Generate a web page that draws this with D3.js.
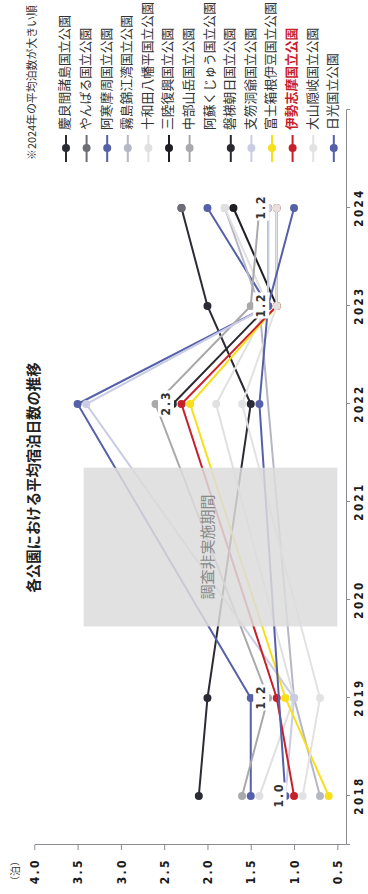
<!DOCTYPE html>
<html><head><meta charset="utf-8">
<script src="https://cdn.jsdelivr.net/npm/d3@7"></script>
<style>body{margin:0;background:#fff}svg{display:block}</style>
</head><body><svg id="c" width="368" height="894"></svg>
<script>
// ---------- data ----------
const years = [2018, 2019, 2022, 2023, 2024];
const parkNames = ["慶良間諸島国立公園","やんばる国立公園","阿寒摩周国立公園","霧島錦江湾国立公園","十和田八幡平国立公園","三陸復興国立公園","中部山岳国立公園","阿蘇くじゅう国立公園","磐梯朝日国立公園","支笏洞爺国立公園","富士箱根伊豆国立公園","伊勢志摩国立公園","大山隠岐国立公園","日光国立公園"];
const parkColors = ["#2b2b35","#6e6e78","#5560a8","#b5b7c5","#e0e0e0","#1e1e24","#a9a9ab",null,"#2a2a30","#c9cce2","#f7df1a","#c8202a","#e2e2e2","#5560a8"];
const kerama    = [2.1, 2.0, 1.5, 2.0, 2.3];
const yanbaru   = [null, null, null, null, 2.3];
const akan      = [1.5, 1.5, 3.5, 1.3, 2.0];
const kirishima = [0.7, 1.0, null, 1.4, 1.8];
const towada    = [1.4, 1.0, 1.9, 1.3, 1.8];
const sanriku   = [null, null, null, 1.2, 1.7];
const chubu     = [1.6, 1.3, 2.6, 1.5, 1.4];
const aso       = [null, null, null, null, null];
const bandai    = [null, null, 2.4, 1.3, 1.3];
const shikotsu  = [1.1, 1.0, 3.4, 1.3, 1.3];
const fuji      = [0.6, 1.1, 2.2, 1.2, 1.2];
const ise       = [1.0, 1.2, 2.3, 1.2, 1.2];
const daisen    = [0.9, 0.7, 1.6, 1.2, 1.2];
const nikko     = [1.1, null, 1.4, 1.3, 1.0];
const seriesValues = [kerama,yanbaru,akan,kirishima,towada,sanriku,chubu,aso,bandai,shikotsu,fuji,ise,daisen,nikko];
const highlightIndex = 11;
const yTicks = [0.5,1.0,1.5,2.0,2.5,3.0,3.5,4.0];
const xTicks = [2018,2019,2020,2021,2022,2023,2024];
const gapPeriod = [2019.73, 2021.35];
const gapTop = 3.43;
const title = "各公園における平均宿泊日数の推移";
const unitLabel = "（泊）";
const gapLabel = "調査非実施期間";
const legendNote = "※2024年の平均泊数が大きい順";

// ---------- layout (landscape frame, rotated -90deg on screen) ----------
const W = 894, H = 368;
const svg = d3.select("#c");
svg.append("rect").attr("width",368).attr("height",894).attr("fill","#fff");
const g = svg.append("g").attr("transform",`translate(0,${W}) rotate(-90)`);

const x = d3.scaleLinear().domain([2017.5, 2025]).range([49, 784]);
const y = d3.scaleLinear().domain([0.4, 4.0]).range([346, 34.3]);
const numFont = "'Liberation Sans Narrow','DejaVu Sans Condensed','Arial Narrow',sans-serif";
const jpFont = "'Noto Sans CJK JP','Noto Sans',sans-serif";

// axes
const yAxis = g.append("g").attr("transform","translate(49,0)")
  .call(d3.axisLeft(y).tickValues(yTicks).tickSize(5).tickSizeOuter(0).tickFormat(d3.format(".1f")));
const xAxis = g.append("g").attr("transform","translate(0,346)")
  .call(d3.axisBottom(x).tickValues(xTicks).tickSize(4).tickSizeOuter(4).tickFormat(d3.format("d")));
[yAxis,xAxis].forEach(a=>{
  a.selectAll("path,line").attr("stroke","#8a8a90");
  a.selectAll("text").attr("fill","#1a1a1a").style("font-family",numFont).style("font-size","12px")
    .style("font-weight","700").style("letter-spacing","2.4px");
});
yAxis.selectAll("text").attr("x",-13).attr("dy","0.35em");
xAxis.selectAll("text").attr("y",9).attr("dy","0.71em").style("font-size","11.5px");

g.append("text").attr("x",23).attr("y",16).attr("text-anchor","middle").attr("dominant-baseline","middle")
  .style("font-family",jpFont).style("font-size","10px").attr("fill","#333").text(unitLabel);

// lines
const line = d3.line().x(d=>x(d.year)).y(d=>y(d.v));
const series = parkNames.map((name,i)=>({name, color:parkColors[i],
  pts: years.map((yr,j)=>({year:yr, v:seriesValues[i][j]})).filter(d=>d.v!=null)}));

series.forEach((s,i)=>{
  if(!s.color || !s.pts.length) return;
  const sg = g.append("g");
  sg.append("path").datum(s.pts).attr("d",line).attr("fill","none")
    .attr("stroke",s.color).attr("stroke-width",2);
  sg.selectAll("circle").data(s.pts).join("circle")
    .attr("cx",d=>x(d.year)).attr("cy",d=>y(d.v)).attr("r",4).attr("fill",s.color);
});

// gap box
g.append("rect").attr("x",x(gapPeriod[0])).attr("width",x(gapPeriod[1])-x(gapPeriod[0]))
  .attr("y",y(gapTop)).attr("height",y(0.5)-y(gapTop))
  .attr("fill","#dcdcdc").attr("fill-opacity",0.85);
g.append("text").attr("x",(x(gapPeriod[0])+x(gapPeriod[1]))/2).attr("y",y(2.0)+1)
  .attr("text-anchor","middle").attr("dominant-baseline","middle")
  .style("font-family",jpFont).style("font-size","15px").attr("fill","#8a8a8a").text(gapLabel);

// highlight labels
const hs = series[highlightIndex];
const lab = g.append("g");
hs.pts.forEach(d=>{
  const cx = x(d.year), cy = y(d.v) - 15;
  const t = lab.append("text").attr("x",cx+1).attr("y",cy).attr("text-anchor","middle").attr("dominant-baseline","middle")
    .style("font-family",numFont).style("font-size","12px").style("font-weight","700").style("letter-spacing","2px").attr("fill","#333").text(d.v.toFixed(1));
  const bb = t.node().getBBox();
  lab.insert("rect","text").attr("x",bb.x-1).attr("y",bb.y-1).attr("width",bb.width+1).attr("height",bb.height+2).attr("fill","#fff");
});

// title
g.append("text").attr("x",(x.range()[0]+x.range()[1])/2).attr("y",35).attr("text-anchor","middle").attr("dominant-baseline","middle")
  .style("font-family",jpFont).style("font-size","14.4px").style("font-weight","700").attr("fill","#222").text(title);

// legend
const lg = g.append("g");
lg.append("text").attr("x",734).attr("y",33).attr("dominant-baseline","middle")
  .style("font-family",jpFont).style("font-size","10.9px").attr("fill","#333").text(legendNote);
series.forEach((s,i)=>{
  const ry = 66 + i*20.6;
  if(s.color){
    lg.append("line").attr("x1",732).attr("x2",759).attr("y1",ry).attr("y2",ry).attr("stroke",s.color).attr("stroke-width",2);
    lg.append("circle").attr("cx",746).attr("cy",ry).attr("r",4).attr("fill",s.color);
  }
  lg.append("text").attr("x",764).attr("y",ry).attr("dominant-baseline","middle")
    .style("font-family",jpFont).style("font-size","12.8px")
    .style("font-weight", i===highlightIndex?"700":"400")
    .attr("fill", i===highlightIndex?"#c8202a":"#333").text(s.name);
});
</script></body></html>
